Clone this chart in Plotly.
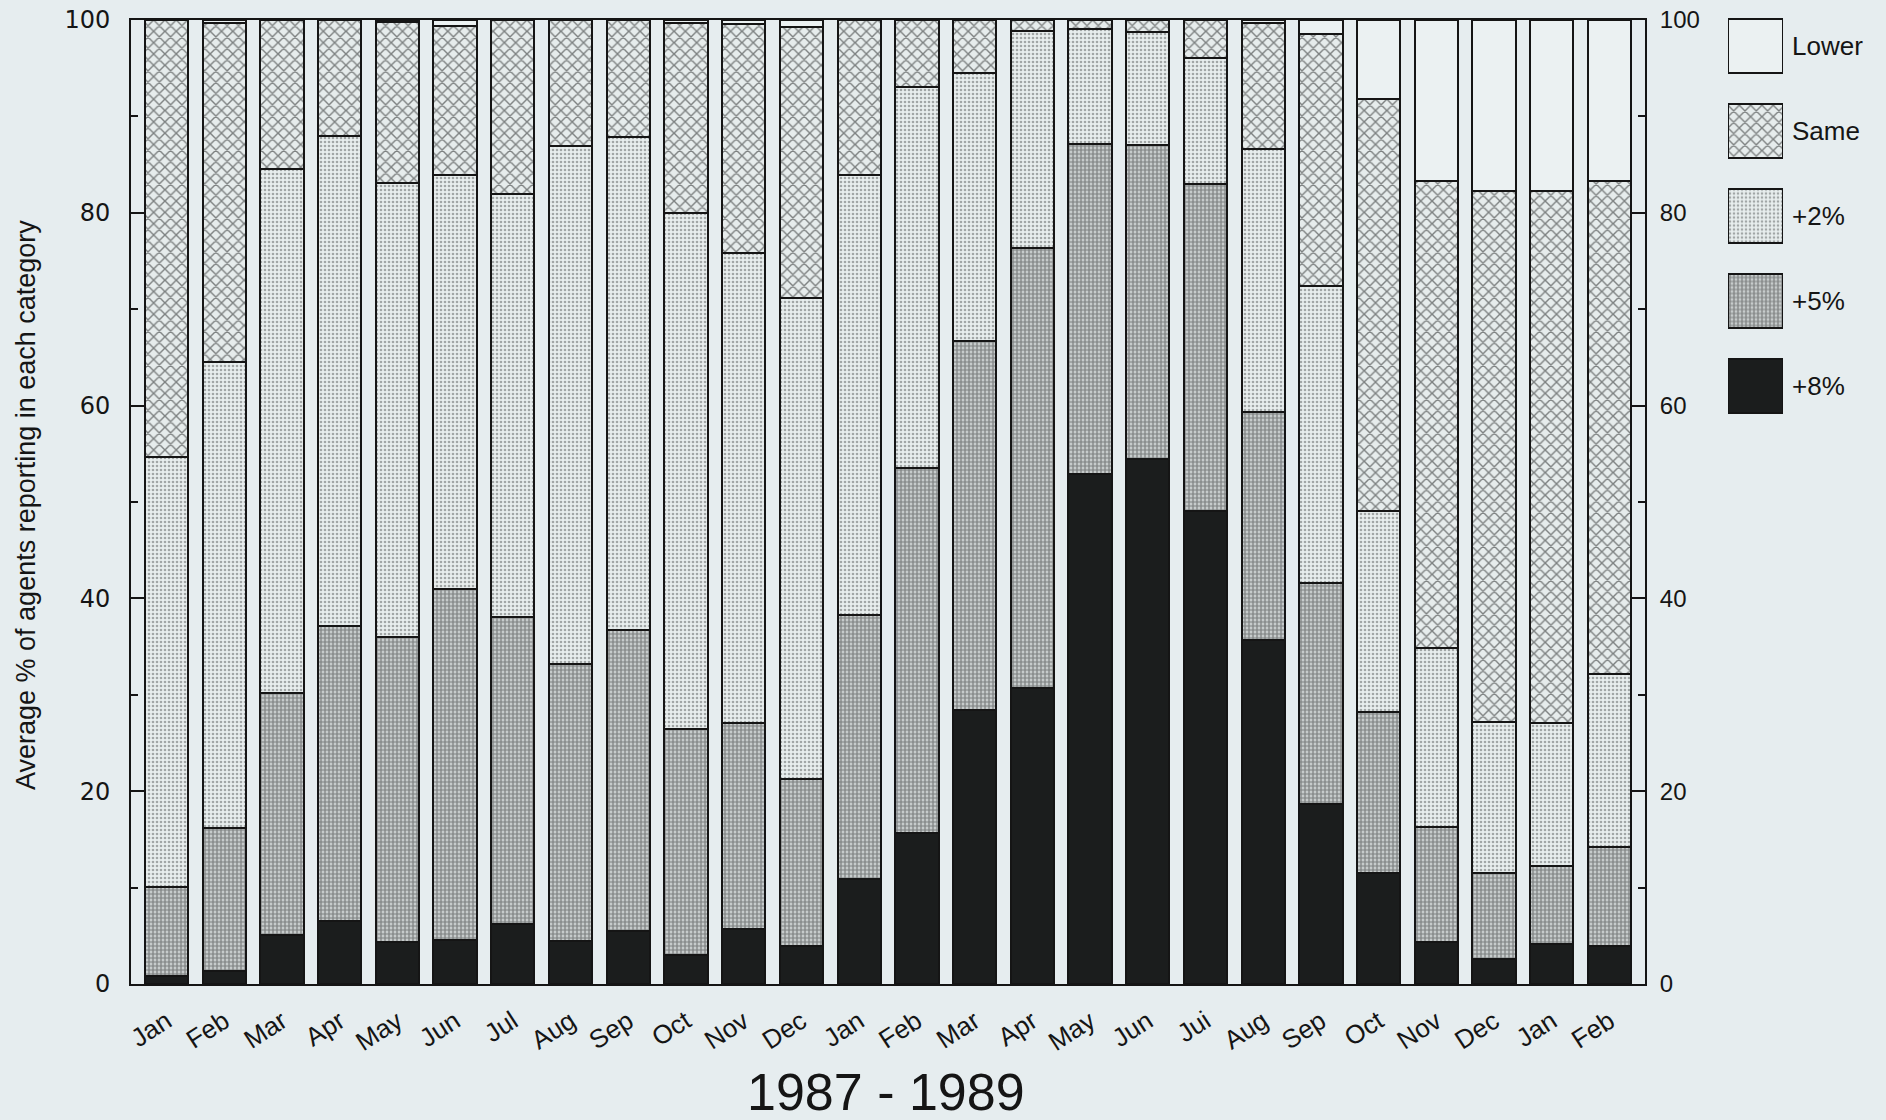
import plotly.graph_objects as go

# Monthly survey, Jan 1987 - Feb 1989
months = ["Jan", "Feb", "Mar", "Apr", "May", "Jun", "Jul", "Aug", "Sep", "Oct", "Nov", "Dec",
          "Jan", "Feb", "Mar", "Apr", "May", "Jun", "Jui", "Aug", "Sep", "Oct", "Nov", "Dec",
          "Jan", "Feb"]

# Average % of agents reporting in each category
plus8 = [0.8, 1.4, 5.1, 6.5, 4.4, 4.6, 6.2, 4.5, 5.5, 3.0, 5.7, 3.9,
         10.9, 15.7, 28.4, 30.7, 52.9, 54.5, 49.1, 35.7, 18.7, 11.5, 4.4, 2.6,
         4.2, 3.9]
plus5 = [9.3, 14.8, 25.1, 30.6, 31.6, 36.4, 31.9, 28.7, 31.2, 23.5, 21.4, 17.4,
         27.4, 37.8, 38.3, 45.7, 34.2, 32.5, 33.9, 23.6, 22.9, 16.7, 11.9, 8.9,
         8.0, 10.3]
plus2 = [44.6, 48.3, 54.3, 50.9, 47.1, 42.9, 43.9, 53.7, 51.2, 53.5, 48.7, 49.9,
         45.6, 39.5, 27.8, 22.5, 12.0, 11.8, 13.1, 27.3, 30.8, 20.9, 18.6, 15.7,
         14.9, 18.0]
same = [45.3, 35.2, 15.5, 12.0, 16.7, 15.5, 18.0, 13.1, 12.1, 19.7, 23.8, 28.1,
        16.1, 7.0, 5.5, 1.1, 0.9, 1.2, 3.9, 13.1, 26.2, 42.7, 48.4, 55.1,
        55.2, 51.1]
lower = [0.0, 0.3, 0.0, 0.0, 0.2, 0.6, 0.0, 0.0, 0.0, 0.3, 0.4, 0.7,
         0.0, 0.0, 0.0, 0.0, 0.0, 0.0, 0.0, 0.3, 1.4, 8.2, 16.7, 17.7,
         17.7, 16.7]

categories = ["+8%", "+5%", "+2%", "Same", "Lower"]
series = [plus8, plus5, plus2, same, lower]
legend_order = ["Lower", "Same", "+2%", "+5%", "+8%"]
y_ticks = [0, 20, 40, 60, 80, 100]
y_minor = [10, 30, 50, 70, 90]

W, H = 1886, 1120
PAPER = "#e6edef"
INK = "#151515"
SANS = "Liberation Sans, Arial, sans-serif"

# Plot frame in pixels
L, R, T, B = 131, 1645, 20, 984

styles = {
    "+8%": dict(color="#1b1d1d"),
    "+5%": dict(color="#b9bebe",
                pattern=dict(shape=".", size=4, solidity=0.7,
                             fgcolor="#3a3c3c", bgcolor="#dce2e2")),
    "+2%": dict(color="#d8dede",
                pattern=dict(shape=".", size=4, solidity=0.35,
                             fgcolor="#5a5e5e", bgcolor="#e8eeee")),
    "Same": dict(color="#e6ecec",
                 pattern=dict(shape="x", size=8, solidity=0.32,
                              fgcolor="#141616", bgcolor="#e6ecec")),
    "Lower": dict(color="#ebf1f2"),
}

fig = go.Figure()

x = list(range(len(months)))
for name, vals in zip(categories, series):
    fig.add_trace(go.Bar(
        x=x, y=vals, name=name, showlegend=False,
        marker=dict(**styles[name], line=dict(color=INK, width=2)),
        xaxis="x", yaxis="y",
    ))

# Empty trace so the right-hand percentage axis is drawn
fig.add_trace(go.Scatter(x=[], y=[], xaxis="x", yaxis="y3",
                         showlegend=False, hoverinfo="skip"))

# Legend swatches: one large patterned box per category
for name in legend_order:
    fig.add_trace(go.Bar(
        x=[1], y=[name], orientation="h", width=0.635, showlegend=False,
        marker=dict(**styles[name], line=dict(color=INK, width=2)),
        xaxis="x2", yaxis="y2", hoverinfo="skip",
    ))

x0, x1 = L / W, R / W
y0, y1 = 1 - B / H, 1 - T / H

tick_common = dict(
    range=[0, 100], tickvals=y_ticks,
    ticks="inside", ticklen=13, tickwidth=2, tickcolor=INK,
    minor=dict(tickvals=y_minor, ticks="inside",
               ticklen=7, tickwidth=2, tickcolor=INK),
    showgrid=False, zeroline=False, automargin=False,
    showline=True, linecolor=INK, linewidth=2, fixedrange=True,
)

fig.update_layout(
    width=W, height=H,
    margin=dict(l=0, r=0, t=0, b=0),
    paper_bgcolor=PAPER, plot_bgcolor=PAPER,
    barmode="stack", bargap=0.25,
    font=dict(family=SANS, color=INK),
    xaxis=dict(
        domain=[x0, x1], range=[-0.616, len(months) - 1 + 0.616],
        tickvals=x, ticktext=months, tickangle=-33,
        tickfont=dict(size=26, family=SANS), ticklabelstandoff=10,
        ticks="", showgrid=False, zeroline=False, automargin=False,
        showline=True, linecolor=INK, linewidth=2, mirror=True,
        fixedrange=True,
    ),
    yaxis=dict(
        domain=[y0, y1], anchor="x",
        tickfont=dict(size=24, family="DejaVu Sans, sans-serif"),
        ticklabelstandoff=14,
        **tick_common,
    ),
    yaxis3=dict(
        overlaying="y", side="right", anchor="x",
        tickfont=dict(size=24, family=SANS),
        ticklabelstandoff=8,
        **tick_common,
    ),
    xaxis2=dict(
        domain=[1728 / W, 1783 / W], range=[0, 1], anchor="y2",
        visible=False, fixedrange=True, automargin=False,
    ),
    yaxis2=dict(
        domain=[1 - 428.5 / H, 1 - 3.5 / H], anchor="x2",
        type="category", categoryorder="array",
        categoryarray=legend_order[::-1],
        side="right", ticks="", showline=False, showgrid=False,
        zeroline=False, ticklabelstandoff=8, automargin=False,
        tickfont=dict(size=26, family=SANS),
        fixedrange=True,
    ),
    annotations=[
        dict(text="Average % of agents reporting in each category",
             xref="paper", yref="paper", x=26 / W, y=1 - 505 / H,
             xanchor="center", yanchor="middle",
             textangle=-90, showarrow=False,
             font=dict(size=27, family=SANS)),
        dict(text="1987 - 1989",
             xref="paper", yref="paper", x=886 / W, y=1 - 1092 / H,
             xanchor="center", yanchor="middle",
             showarrow=False,
             font=dict(size=52, family=SANS)),
    ],
)

fig.write_html("out.html")
